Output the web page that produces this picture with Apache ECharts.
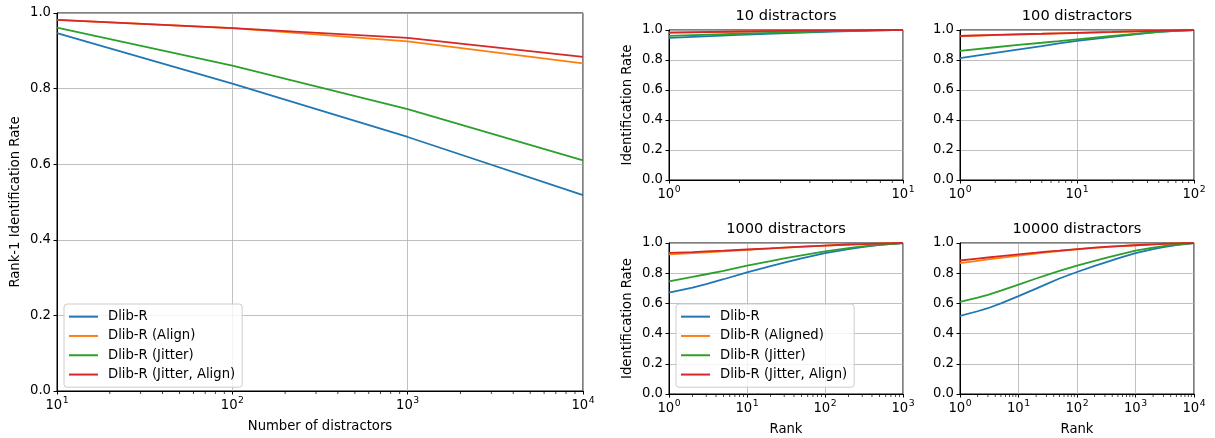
<!DOCTYPE html>
<html>
<head>
<meta charset="utf-8">
<title>Dlib-R identification rates</title>
<script src="https://cdn.jsdelivr.net/npm/echarts@6/dist/echarts.min.js"></script>
<style>
  html, body { margin: 0; padding: 0; background: #fff; }
  #chart { width: 1215px; height: 438px; }
</style>
</head>
<body>
<div id="chart"></div>
<script>
// ---- Rank-1 identification rate vs. number of distractors ----
const distractors = [10, 100, 1000, 10000];
const rank1DlibR = [0.947, 0.813, 0.672, 0.518];
const rank1Align = [0.982, 0.960, 0.925, 0.867];
const rank1Jitter = [0.961, 0.861, 0.746, 0.610];
const rank1JitterAlign = [0.982, 0.960, 0.934, 0.884];

// ---- CMC curves, 10 distractors ----
const ranks10 = [1, 2, 3, 4, 5, 6, 7, 8, 9, 10];
const cmc10DlibR = [0.947, 0.967, 0.978, 0.985, 0.990, 0.993, 0.995, 0.997, 0.999, 1.0];
const cmc10Align = [0.982, 0.989, 0.993, 0.995, 0.997, 0.998, 0.999, 0.999, 1.0, 1.0];
const cmc10Jitter = [0.961, 0.975, 0.983, 0.988, 0.992, 0.995, 0.997, 0.998, 0.999, 1.0];
const cmc10JitterAlign = [0.982, 0.990, 0.994, 0.996, 0.997, 0.998, 0.999, 1.0, 1.0, 1.0];

// ---- CMC curves, 100 distractors ----
const ranks100 = [1, 2, 3, 5, 7, 10, 20, 30, 50, 70, 100];
const cmc100DlibR = [0.813, 0.848, 0.868, 0.893, 0.911, 0.927, 0.955, 0.970, 0.987, 0.995, 1.0];
const cmc100Align = [0.960, 0.966, 0.970, 0.974, 0.977, 0.980, 0.986, 0.990, 0.995, 0.998, 1.0];
const cmc100Jitter = [0.861, 0.885, 0.899, 0.915, 0.926, 0.938, 0.960, 0.972, 0.987, 0.995, 1.0];
const cmc100JitterAlign = [0.960, 0.967, 0.971, 0.975, 0.978, 0.981, 0.987, 0.991, 0.995, 0.998, 1.0];

// ---- CMC curves, 1000 distractors ----
const ranks1000 = [1, 2, 3, 5, 10, 20, 30, 50, 100, 200, 300, 500, 1000];
const cmc1000DlibR = [0.672, 0.705, 0.728, 0.760, 0.805, 0.847, 0.870, 0.898, 0.933, 0.960, 0.973, 0.987, 1.0];
const cmc1000Align = [0.925, 0.933, 0.938, 0.945, 0.955, 0.964, 0.969, 0.975, 0.983, 0.990, 0.993, 0.996, 1.0];
const cmc1000Jitter = [0.746, 0.775, 0.793, 0.815, 0.850, 0.880, 0.898, 0.918, 0.945, 0.966, 0.977, 0.988, 1.0];
const cmc1000JitterAlign = [0.934, 0.940, 0.944, 0.949, 0.957, 0.965, 0.970, 0.976, 0.983, 0.990, 0.993, 0.996, 1.0];

// ---- CMC curves, 10000 distractors ----
const ranks10000 = [1, 2, 3, 5, 10, 20, 30, 50, 100, 200, 300, 500, 1000, 2000, 3000, 5000, 10000];
const cmc10000DlibR = [0.518, 0.548, 0.568, 0.600, 0.648, 0.698, 0.728, 0.765, 0.808, 0.848, 0.870, 0.898, 0.933, 0.960, 0.973, 0.986, 1.0];
const cmc10000Align = [0.867, 0.882, 0.891, 0.902, 0.917, 0.930, 0.938, 0.947, 0.958, 0.968, 0.973, 0.978, 0.985, 0.991, 0.994, 0.997, 1.0];
const cmc10000Jitter = [0.610, 0.638, 0.657, 0.685, 0.725, 0.765, 0.787, 0.815, 0.850, 0.882, 0.900, 0.922, 0.950, 0.970, 0.980, 0.990, 1.0];
const cmc10000JitterAlign = [0.884, 0.897, 0.904, 0.913, 0.925, 0.936, 0.943, 0.950, 0.960, 0.969, 0.974, 0.979, 0.985, 0.991, 0.994, 0.997, 1.0];

// ---- labels ----
const mainNames = ['Dlib-R', 'Dlib-R (Align)', 'Dlib-R (Jitter)', 'Dlib-R (Jitter, Align)'];
const subNames = ['Dlib-R', 'Dlib-R (Aligned)', 'Dlib-R (Jitter)', 'Dlib-R (Jitter, Align)'];
const panelTitles = ['10 distractors', '100 distractors', '1000 distractors', '10000 distractors'];

const COLORS = ['#1f77b4', '#ff7f0e', '#2ca02c', '#d62728'];
const FONT = 'DejaVu Sans';
const FS = 13.2;
const INK = '#000';
const GRIDLINE = '#b0b0b0';

const zip = (xs, ys) => xs.map((x, i) => [x, ys[i]]);

// plot areas: main panel + 2x2 CMC panels
const grids = [
  { left: 57, top: 13, width: 526, height: 381 },
  { left: 669, top: 30, width: 234, height: 150 },
  { left: 960, top: 30, width: 234, height: 150 },
  { left: 669, top: 243, width: 234, height: 151 },
  { left: 960, top: 243, width: 234, height: 151 }
].map(g => Object.assign({ show: true, borderColor: INK, borderWidth: 1, backgroundColor: '#fff' }, g));

const xRanges = [[10, 10000], [1, 10], [1, 100], [1, 1000], [1, 10000]];
const xNames = ['Number of distractors', '', '', 'Rank', 'Rank'];
const yNames = ['Rank-1 Identification Rate', 'Identification Rate', '', 'Identification Rate', ''];

const powLabel = v => '{b|10}{s|' + Math.round(Math.log10(v)) + '}';

const xAxes = xRanges.map((r, i) => ({
  type: 'log',
  logBase: 10,
  gridIndex: i,
  min: r[0],
  max: r[1],
  name: xNames[i],
  nameLocation: 'middle',
  nameGap: 29,
  nameTextStyle: { fontFamily: FONT, fontSize: FS, color: INK },
  axisLine: { show: true, lineStyle: { color: INK, width: 1 } },
  axisTick: { show: true, length: 3.5, lineStyle: { color: INK, width: 1 } },
  axisLabel: {
    margin: 5,
    formatter: powLabel,
    color: INK,
    rich: {
      b: { fontFamily: FONT, fontSize: FS, color: INK, lineHeight: 16, verticalAlign: 'bottom' },
      s: { fontFamily: FONT, fontSize: 9.3, color: INK, lineHeight: 16, verticalAlign: 'top', padding: [0, 0, 0, 0.5] }
    }
  },
  splitLine: { show: true, lineStyle: { color: GRIDLINE, width: 0.8 } }
}));

const yAxes = grids.map((g, i) => ({
  type: 'value',
  gridIndex: i,
  min: 0,
  max: 1,
  interval: 0.2,
  name: yNames[i],
  nameLocation: 'middle',
  nameGap: 35,
  nameTextStyle: { fontFamily: FONT, fontSize: FS, color: INK },
  axisLine: { show: true, lineStyle: { color: INK, width: 1 } },
  axisTick: { show: true, length: 3.5, lineStyle: { color: INK, width: 1 } },
  axisLabel: {
    margin: 6,
    fontFamily: FONT,
    fontSize: FS,
    color: INK,
    formatter: v => v.toFixed(1)
  },
  splitLine: { show: true, lineStyle: { color: GRIDLINE, width: 0.8 } }
}));

function lineSeries(name, data, color, axisIndex) {
  return {
    type: 'line',
    name: name,
    xAxisIndex: axisIndex,
    yAxisIndex: axisIndex,
    data: data,
    showSymbol: false,
    symbol: 'none',
    smooth: false,
    silent: true,
    lineStyle: { color: color, width: 1.8 },
    itemStyle: { color: color },
    z: 3
  };
}

// short minor ticks at 2..9 of every decade on each log axis
function minorTickSeries(axisIndex, range) {
  const pts = [];
  for (let d = range[0]; d < range[1]; d *= 10) {
    for (let k = 2; k <= 9; k++) pts.push([d * k, 0]);
  }
  return {
    type: 'scatter',
    xAxisIndex: axisIndex,
    yAxisIndex: axisIndex,
    data: pts,
    symbol: 'rect',
    symbolSize: [0.9, 2.4],
    symbolOffset: [0, 1.7],
    itemStyle: { color: INK },
    silent: true,
    clip: false,
    z: 4
  };
}

const series = [];
const mainSets = [rank1DlibR, rank1Align, rank1Jitter, rank1JitterAlign];
mainSets.forEach((vals, k) => series.push(lineSeries(mainNames[k], zip(distractors, vals), COLORS[k], 0)));

const panels = [
  [ranks10, [cmc10DlibR, cmc10Align, cmc10Jitter, cmc10JitterAlign]],
  [ranks100, [cmc100DlibR, cmc100Align, cmc100Jitter, cmc100JitterAlign]],
  [ranks1000, [cmc1000DlibR, cmc1000Align, cmc1000Jitter, cmc1000JitterAlign]],
  [ranks10000, [cmc10000DlibR, cmc10000Align, cmc10000Jitter, cmc10000JitterAlign]]
];
panels.forEach((p, i) => {
  p[1].forEach((vals, k) => series.push(lineSeries(subNames[k], zip(p[0], vals), COLORS[k], i + 1)));
});
xRanges.forEach((r, i) => series.push(minorTickSeries(i, r)));

const legendBase = {
  orient: 'vertical',
  icon: 'rect',
  itemWidth: 29,
  itemHeight: 2,
  itemGap: 4,
  padding: [5, 7, 5, 5],
  backgroundColor: 'rgba(255,255,255,0.8)',
  borderColor: '#cccccc',
  borderWidth: 1,
  borderRadius: 3,
  selectedMode: false,
  textStyle: { fontFamily: FONT, fontSize: FS, color: INK, lineHeight: 15.3, padding: [0, 0, 0, 5] }
};

const titlePos = [[786, 16], [1077, 16], [786, 229], [1077, 229]];

const option = {
  animation: false,
  backgroundColor: '#fff',
  grid: grids,
  xAxis: xAxes,
  yAxis: yAxes,
  legend: [
    Object.assign({}, legendBase, { left: 64, top: 304, data: mainNames }),
    Object.assign({}, legendBase, { left: 676, top: 304, data: subNames })
  ],
  graphic: panelTitles.map((t, i) => ({
    type: 'text',
    x: titlePos[i][0],
    y: titlePos[i][1],
    style: {
      text: t,
      fill: INK,
      font: '14.6px "DejaVu Sans"',
      textAlign: 'center',
      textVerticalAlign: 'middle'
    },
    silent: true
  })),
  series: series
};

const chart = echarts.init(document.getElementById('chart'), null, { renderer: 'canvas' });
chart.setOption(option);
</script>
</body>
</html>
